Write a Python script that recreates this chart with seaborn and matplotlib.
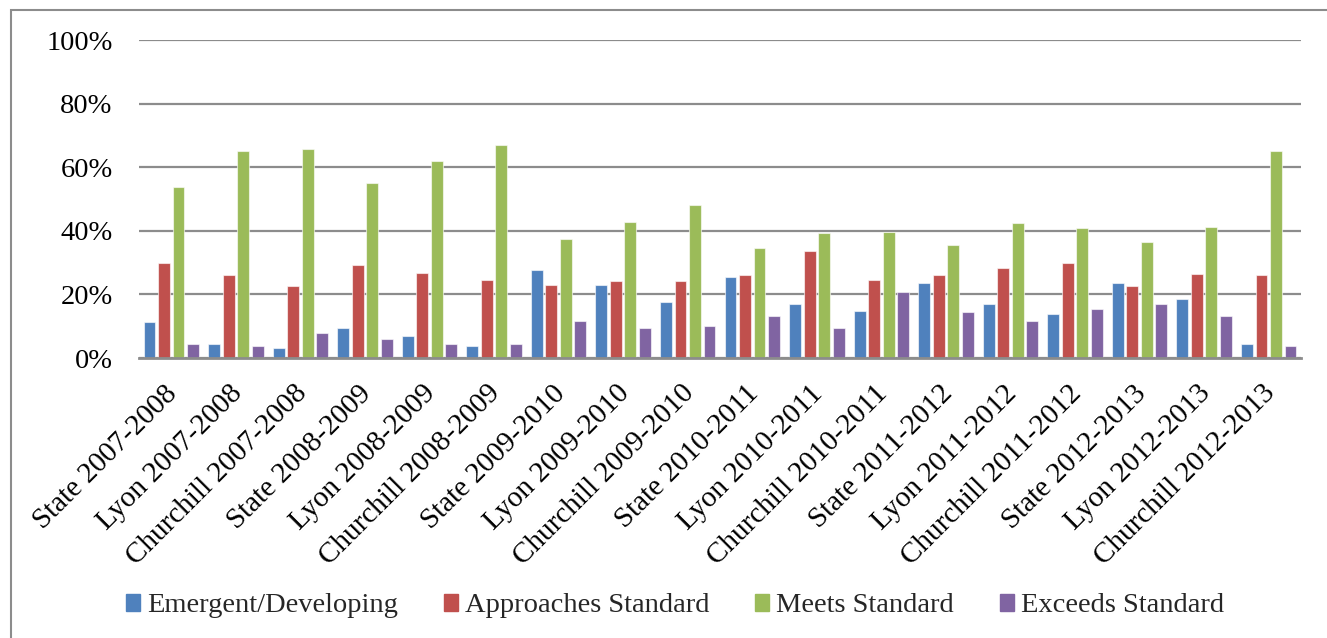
import matplotlib
matplotlib.use("Agg")
import matplotlib.pyplot as plt
from matplotlib.patches import Rectangle
from matplotlib.ticker import FuncFormatter
from matplotlib.transforms import ScaledTranslation
import seaborn as sns
import pandas as pd

# Proficiency level shares (%) by group and school year
groups = [
    "State 2007-2008", "Lyon 2007-2008", "Churchill 2007-2008",
    "State 2008-2009", "Lyon 2008-2009", "Churchill 2008-2009",
    "State 2009-2010", "Lyon 2009-2010", "Churchill 2009-2010",
    "State 2010-2011", "Lyon 2010-2011", "Churchill 2010-2011",
    "State 2011-2012", "Lyon 2011-2012", "Churchill 2011-2012",
    "State 2012-2013", "Lyon 2012-2013", "Churchill 2012-2013",
]
emergent = [11.4, 4.5, 3.1, 9.5, 6.8, 3.7, 27.8, 23.1, 17.5,
            25.6, 17.1, 14.9, 23.5, 16.9, 13.7, 23.7, 18.4, 4.5]
approaches = [30.0, 26.2, 22.7, 29.4, 26.6, 24.5, 23.1, 24.3, 24.1,
              26.2, 33.8, 24.6, 26.2, 28.4, 29.8, 22.6, 26.5, 26.2]
meets = [53.9, 65.2, 65.8, 54.9, 62.1, 67.1, 37.3, 42.9, 48.2,
         34.5, 39.4, 39.7, 35.4, 42.5, 40.8, 36.6, 41.3, 65.2]
exceeds = [4.5, 3.7, 8.0, 6.0, 4.3, 4.5, 11.7, 9.3, 10.0,
           13.3, 9.5, 20.6, 14.4, 11.5, 15.3, 17.1, 13.3, 3.7]

levels = ["Emergent/Developing", "Approaches Standard", "Meets Standard", "Exceeds Standard"]
colors = ["#4F81BD", "#C0504D", "#9BBB59", "#8064A2"]
y_ticks = [0, 20, 40, 60, 80, 100]

df = pd.concat([
    pd.DataFrame({"group": groups, "level": lvl, "pct": vals})
    for lvl, vals in zip(levels, [emergent, approaches, meets, exceeds])
], ignore_index=True)

sns.set_theme(style="white")
plt.rcParams["font.family"] = ["Liberation Serif", "DejaVu Serif"]

W, H = 1327, 638
fig = plt.figure(figsize=(W / 100, H / 100), dpi=100)
ax = fig.add_axes([139 / W, 1 - 358 / H, (1301 - 139) / W, (358 - 40) / H])

sns.barplot(data=df, x="group", y="pct", hue="level", order=groups,
            hue_order=levels, palette=colors, saturation=1, width=0.9,
            gap=0.18, linewidth=0.8, edgecolor=(1, 1, 1, 0.6),
            legend=False, ax=ax)

ax.set_ylim(0, 100)
ax.set_xlim(-0.5, len(groups) - 0.5)
ax.set_yticks(y_ticks)
ax.yaxis.set_major_formatter(FuncFormatter(lambda v, _: f"{v:.0f}%"))
ax.grid(axis="y", color="#8C8C8C", linewidth=1.6)
ax.set_axisbelow(True)
for side in ["left", "right", "top"]:
    ax.spines[side].set_visible(False)
ax.spines["bottom"].set_color("#8C8C8C")
ax.spines["bottom"].set_linewidth(2.0)
ax.spines["bottom"].set_zorder(5)
ax.set_xlabel("")
ax.set_ylabel("")
ax.tick_params(axis="y", length=0, pad=19, labelsize=20.5, labelcolor="black")
ax.tick_params(axis="x", length=0, pad=16, labelsize=21, labelcolor="black")
shift = ScaledTranslation(-5 / 72, 0, fig.dpi_scale_trans)
for lab in ax.get_xticklabels():
    lab.set_rotation(45)
    lab.set_ha("right")
    lab.set_va("top")
    lab.set_rotation_mode("anchor")
    lab.set_transform(lab.get_transform() + shift)

# Legend along the bottom of the frame
handles = [Rectangle((0, 0), 1, 1, color=c) for c in colors]
fig.legend(handles, levels, loc="center", bbox_to_anchor=(0.5087, 1 - 606 / H),
           ncol=4, frameon=False, fontsize=20.5, handlelength=0.5,
           handleheight=0.5, handletextpad=0.25, columnspacing=1.6)

# Chart frame
fig.patches.append(Rectangle((11 / W, -0.1), 1.2, 1 - 10 / H + 0.1,
                             transform=fig.transFigure, fill=False,
                             edgecolor="#8C8C8C", linewidth=1.5))

fig.savefig("out.png", dpi=100, facecolor="white")
